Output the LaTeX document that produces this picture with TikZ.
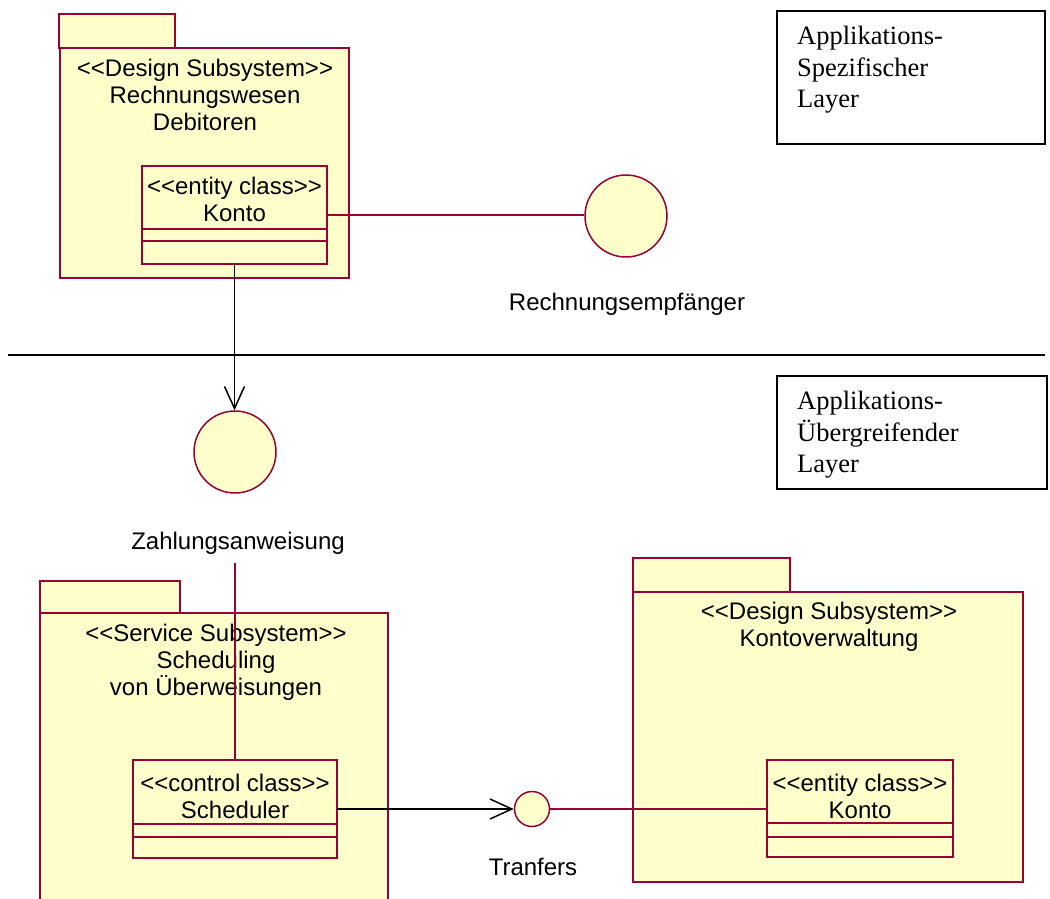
\documentclass[tikz,border=0pt]{standalone}
\usepackage{fontspec}
\setmainfont{Liberation Serif}
\newfontfamily\umlfont{Liberation Sans}
\usetikzlibrary{arrows.meta}

\definecolor{umlline}{RGB}{153,0,51}
\definecolor{umlfill}{RGB}{255,255,204}

% stereotype brackets, kept apart so they are not joined into guillemets
\newcommand\stereo[1]{<{}<#1>{}>}

\begin{document}
\begin{tikzpicture}[x=1pt,y=-1pt,
  pkgpart/.style={draw=umlline, fill=umlfill, line width=1.5pt, inner sep=0pt, outer sep=0pt, anchor=north west},
  classbox/.style={draw=umlline, fill=umlfill, line width=2pt, inner sep=0pt, outer sep=0pt, anchor=north west},
  compart/.style={draw=umlline, line width=2pt},
  iface/.style={circle, draw=umlline, fill=umlfill, line width=1.5pt, inner sep=0pt},
  umltext/.style={font=\umlfont\fontsize{24}{27}\selectfont, align=center, inner sep=0pt},
  layerbox/.style={draw=black, fill=white, line width=1.5pt, inner sep=0pt, anchor=north west},
  layertext/.style={font=\fontsize{26.5}{31.5}\selectfont, align=left, anchor=north west, inner sep=0pt},
  assoc/.style={draw=umlline, line width=1.5pt},
  dep/.style={draw=black, line width=1.5pt, -{Straight Barb[length=22pt,width=20pt,line width=1.5pt]}},
  sepline/.style={draw=black, line width=1.5pt}]

\clip (0,0) rectangle (1050,898);
\fill[white] (0,0) rectangle (1050,898);

% ---------- layer labels ----------
\node[layerbox, minimum width=268, minimum height=133] (lay1) at (776,10) {};
\node[layertext] (lay1t) at (797,26) {Applikations-\\Spezifischer\\Layer};
\node[layerbox, minimum width=270, minimum height=113] (lay2) at (776,375) {};
\node[layertext] (lay2t) at (797,391) {Applikations-\\Übergreifender\\Layer};

% ---------- layer separator ----------
\coordinate (sepL) at (8,355);
\coordinate (sepR) at (1045,355);
\draw[sepline] (sepL) -- (sepR);

% ---------- package: Rechnungswesen Debitoren ----------
\node[pkgpart, minimum width=289, minimum height=230] (p1) at (60,48) {};
\node[pkgpart, minimum width=116, minimum height=34] (p1tab) at (59,14) {};
\node[umltext] (p1t) at (205,95) {\stereo{Design Subsystem}\\Rechnungswesen\\Debitoren};

\node[classbox, minimum width=185, minimum height=98] (k1) at (142,166) {};
\draw[compart] (142,229) -- (327,229);
\draw[compart] (142,241) -- (327,241);
\node[umltext] (k1t) at (234.5,199.5) {\stereo{entity class}\\Konto};

% ---------- package: Scheduling von Überweisungen ----------
\node[pkgpart, minimum width=348, minimum height=310] (p2) at (40,613) {};
\node[pkgpart, minimum width=140, minimum height=32] (p2tab) at (40,581) {};
\node[umltext] (p2t) at (216,662.5) {\stereo{Service Subsystem}\\Scheduling\\von Überweisungen};

\node[classbox, minimum width=204, minimum height=98] (sch) at (133,760) {};
\draw[compart] (133,824) -- (337,824);
\draw[compart] (133,837) -- (337,837);
\node[umltext] (scht) at (235,796) {\stereo{control class}\\Scheduler};

% ---------- package: Kontoverwaltung ----------
\node[pkgpart, minimum width=390, minimum height=290] (p3) at (633,592) {};
\node[pkgpart, minimum width=157, minimum height=34] (p3tab) at (633,558) {};
\node[umltext] (p3t) at (829,627) {\stereo{Design Subsystem}\\Kontoverwaltung};

\node[classbox, minimum width=186, minimum height=97] (k2) at (767,760) {};
\draw[compart] (767,823) -- (953,823);
\draw[compart] (767,837) -- (953,837);
\node[umltext] (k2t) at (860,796.5) {\stereo{entity class}\\Konto};

% ---------- interfaces ----------
\node[iface, minimum size=82] (re) at (626,216) {};
\node[umltext] (rel) at (627,304) {Rechnungsempfänger};
\node[iface, minimum size=82] (za) at (235,452) {};
\node[umltext] (zal) at (238,543) {Zahlungsanweisung};
\node[iface, minimum size=35] (tr) at (532,809) {};
\node[umltext] (trl) at (533,867) {Tranfers};

% ---------- connectors ----------
\draw[assoc] (k1.east) -- (k1.east -| re.west);
\draw[dep] (k1.south) -- (k1.south |- za.north);
\draw[assoc, shorten <=9pt] (zal.south -| sch.north) -- (sch.north);
\draw[dep] (sch.east) -- (sch.east -| tr.west);
\draw[assoc] (tr.east) -- (tr.east -| k2.west);
\end{tikzpicture}
\end{document}
